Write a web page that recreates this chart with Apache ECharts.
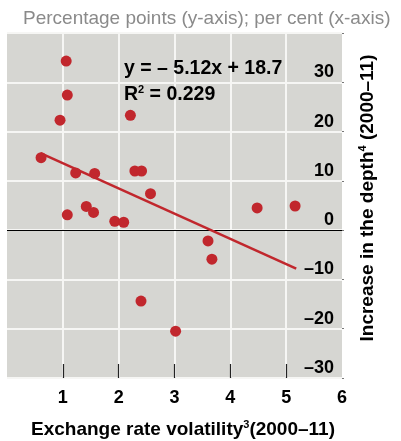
<!DOCTYPE html>
<html>
<head>
<meta charset="utf-8">
<script src="https://cdn.jsdelivr.net/npm/echarts@6/dist/echarts.min.js"></script>
<style>
  html, body { margin: 0; padding: 0; background: #ffffff; }
  #chart { width: 401px; height: 441px; }
</style>
</head>
<body>
<div id="chart"></div>
<script>
// Exchange rate volatility (per cent) vs increase in depth (percentage points)
const volatility = [1.06, 1.08, 0.95, 2.21, 0.61, 1.23, 1.57, 2.29, 2.41, 2.57,
                    1.08, 1.42, 1.55, 1.93, 2.09, 3.60, 3.67, 2.40, 3.02, 4.48, 5.16];
const depthIncrease = [34.3, 27.4, 22.3, 23.3, 14.7, 11.6, 11.5, 12.0, 12.0, 7.4,
                       3.1, 4.8, 3.6, 1.8, 1.6, -2.2, -5.9, -14.4, -20.5, 4.5, 4.9];

// Fitted line: y = slope * x + intercept, drawn over the fitted range
const fitSlope = -5.12;
const fitIntercept = 18.7;
const fitRange = [0.6, 5.18];
const rSquared = 0.229;

const xTickLabels = [1, 2, 3, 4, 5, 6];
const xTickMarks = [1, 2, 3, 4, 5];
const yTickLabels = [-30, -20, -10, 0, 10, 20, 30];

const points = volatility.map((v, i) => [v, depthIncrease[i]]);
const fitLine = fitRange.map(x => [x, fitSlope * x + fitIntercept]);

const RED = '#c1272d';
const PANEL = '#d6d6d2';
const GRIDLINE = '#f6f6f4';
const FONT = '"Liberation Sans", Arial, Helvetica, sans-serif';

// plot rectangle (px)
const PLOT = { left: 7, top: 33, right: 342, bottom: 378 };
const W = 401, H = 441;

const chart = echarts.init(document.getElementById('chart'), null, { renderer: 'canvas' });

const supStyle = { fontSize: 11, fontWeight: 'bold', fontFamily: FONT, fill: '#000', verticalAlign: 'top', lineHeight: 21 };
const baseBold = { fontSize: 19, fontWeight: 'bold', fontFamily: FONT, fill: '#000', lineHeight: 21 };
const gridLineStyle = { color: GRIDLINE, width: 2, opacity: 1, type: 'solid' };

chart.setOption({
  animation: false,
  grid: {
    left: PLOT.left, right: W - PLOT.right, top: PLOT.top, bottom: H - PLOT.bottom,
    show: false,
    containLabel: false,
    outerBoundsMode: 'none'
  },
  xAxis: {
    type: 'value',
    min: 0, max: 6, interval: 1,
    axisLine: { show: false, onZero: false },
    axisTick: {
      show: true, inside: true, length: 14,
      customValues: xTickMarks,
      lineStyle: { color: '#222', width: 1.2 }
    },
    axisLabel: {
      customValues: xTickLabels,
      margin: 11,
      fontSize: 18, fontWeight: 'bold', fontFamily: FONT, color: '#000'
    },
    splitLine: { show: true, lineStyle: gridLineStyle }
  },
  yAxis: {
    type: 'value',
    position: 'right',
    min: -30, max: 40, interval: 10,
    axisLine: { show: false, onZero: false },
    axisTick: { show: true, length: 2, lineStyle: { color: '#777' } },
    axisLabel: {
      inside: true,
      customValues: yTickLabels,
      margin: 8,
      verticalAlign: 'bottom',
      padding: [0, 0, 1, 0],
      fontSize: 18, fontWeight: 'bold', fontFamily: FONT, color: '#000',
      formatter: v => (v < 0 ? '\u2013' + Math.abs(v) : String(v))
    },
    splitLine: { show: true, lineStyle: gridLineStyle }
  },
  series: [
    {
      type: 'line',
      data: fitLine,
      showSymbol: false,
      lineStyle: { color: RED, width: 2.5 },
      z: 3,
      markLine: {
        silent: true,
        z: 3,
        symbol: ['none', 'none'],
        label: { show: false },
        lineStyle: { color: '#000', width: 1, type: 'solid' },
        data: [{ yAxis: 0 }]
      }
    },
    {
      type: 'scatter',
      data: points,
      symbolSize: 11,
      itemStyle: { color: RED, opacity: 1 },
      z: 4
    }
  ],
  graphic: [
    {
      // grey panel behind the plot
      type: 'rect', z: -100, silent: true,
      shape: { x: PLOT.left, y: PLOT.top, width: PLOT.right - PLOT.left, height: PLOT.bottom - PLOT.top },
      style: { fill: PANEL }
    },
    {
      type: 'text', left: 23, top: 9,
      style: {
        text: 'Percentage points (y-axis); per cent (x-axis)',
        fontSize: 19, fontFamily: FONT, fill: '#8a8a8a'
      }
    },
    {
      type: 'text', x: 124, y: 69, z: 10,
      style: {
        text: 'y = \u2013 ' + Math.abs(fitSlope).toFixed(2) + 'x + ' + fitIntercept.toFixed(1),
        fontSize: 19.5, fontWeight: 'bold', fontFamily: FONT, fill: '#000',
        verticalAlign: 'middle'
      }
    },
    {
      type: 'text', x: 124, y: 95, z: 10,
      style: {
        text: '{b|R}{s|2}{b| = ' + rSquared.toFixed(3) + '}',
        verticalAlign: 'middle',
        rich: {
          b: { fontSize: 19.5, fontWeight: 'bold', fontFamily: FONT, fill: '#000', lineHeight: 22 },
          s: { fontSize: 11, fontWeight: 'bold', fontFamily: FONT, fill: '#000', lineHeight: 22, verticalAlign: 'top' }
        }
      }
    },
    {
      type: 'text', x: 183, y: 430,
      style: {
        text: '{b|Exchange rate volatility}{s|3}{b|(2000\u201311)}',
        align: 'center', verticalAlign: 'middle',
        rich: { b: baseBold, s: supStyle }
      }
    },
    {
      type: 'text', x: 368, y: 198, rotation: Math.PI / 2,
      style: {
        text: '{b|Increase in the depth}{s|4}{b| (2000\u201311)}',
        align: 'center', verticalAlign: 'middle',
        rich: { b: baseBold, s: supStyle }
      }
    }
  ]
});
</script>
</body>
</html>
